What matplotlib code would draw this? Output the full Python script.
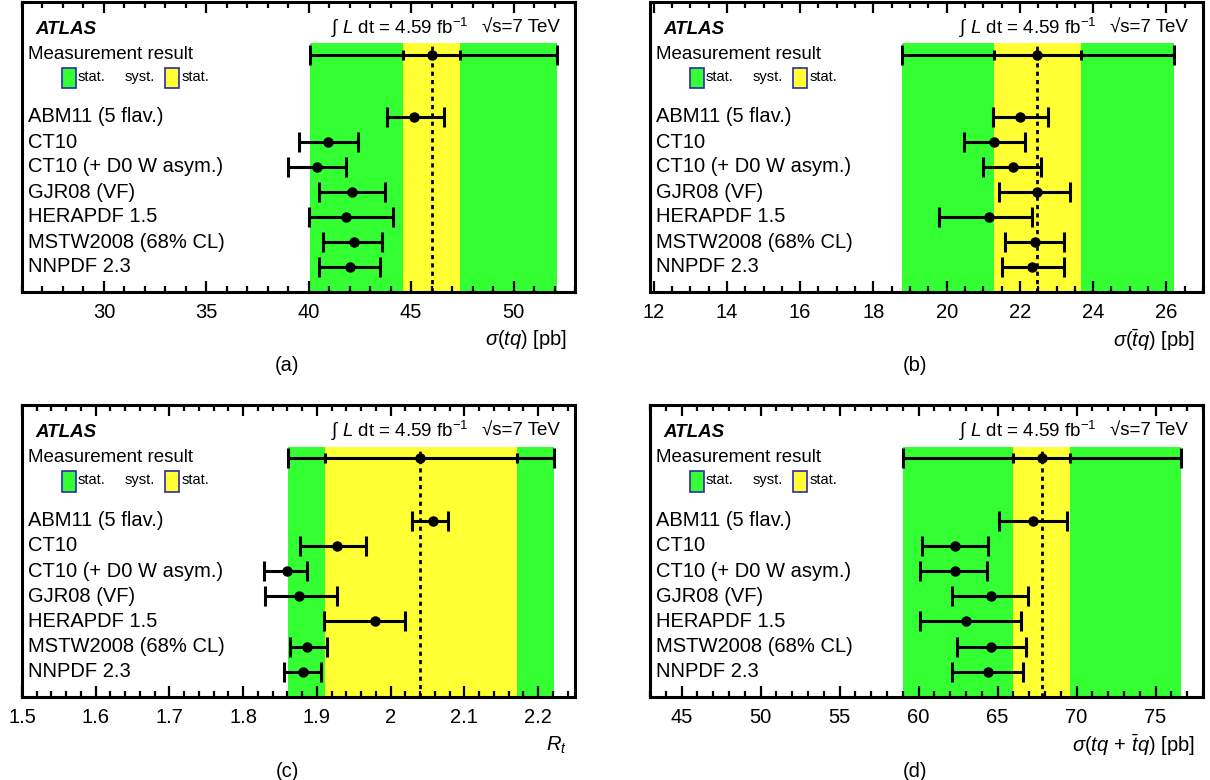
import matplotlib
matplotlib.use("Agg")
import matplotlib.pyplot as plt
from matplotlib.patches import Rectangle
from matplotlib.ticker import MultipleLocator, FormatStrFormatter

plt.rcParams['font.family'] = ['Liberation Sans', 'DejaVu Sans']
plt.rcParams['mathtext.fontset'] = 'custom'
plt.rcParams['mathtext.rm'] = 'Liberation Sans'
plt.rcParams['mathtext.it'] = 'Liberation Sans:italic'
plt.rcParams['mathtext.bf'] = 'Liberation Sans:bold'
plt.rcParams['mathtext.fallback'] = 'stixsans'

pdf_names = ["ABM11 (5 flav.)", "CT10", "CT10 (+ D0 W asym.)", "GJR08 (VF)",
             "HERAPDF 1.5", "MSTW2008 (68% CL)", "NNPDF 2.3"]

# (a) sigma(tq)
tq_pred = [45.15, 40.95, 40.4, 42.1, 41.8, 42.2, 42.0]
tq_lo = [43.8, 39.5, 39.0, 40.5, 40.0, 40.7, 40.5]
tq_hi = [46.6, 42.4, 41.8, 43.7, 44.1, 43.6, 43.5]
tq_meas = 46.0
tq_stat = [44.6, 47.4]
tq_total = [40.05, 52.1]

# (b) sigma(tbar q)
tbq_pred = [22.0, 21.3, 21.8, 22.47, 21.15, 22.4, 22.34]
tbq_lo = [21.26, 20.48, 21.0, 21.43, 19.8, 21.6, 21.5]
tbq_hi = [22.77, 22.13, 22.57, 23.36, 22.33, 23.2, 23.2]
tbq_meas = 22.47
tbq_stat = [21.29, 23.68]
tbq_total = [18.78, 26.2]

# (c) R_t
rt_pred = [2.057, 1.927, 1.859, 1.876, 1.979, 1.886, 1.881]
rt_lo = [2.029, 1.877, 1.828, 1.829, 1.909, 1.863, 1.856]
rt_hi = [2.078, 1.966, 1.887, 1.927, 2.020, 1.913, 1.905]
rt_meas = 2.04
rt_stat = [1.911, 2.172]
rt_total = [1.861, 2.221]

# (d) sigma(tq + tbar q)
tot_pred = [67.25, 62.3, 62.3, 64.6, 63.0, 64.6, 64.4]
tot_lo = [65.1, 60.2, 60.1, 62.1, 60.1, 62.4, 62.1]
tot_hi = [69.4, 64.4, 64.3, 66.9, 66.5, 66.8, 66.6]
tot_meas = 67.8
tot_stat = [66.0, 69.6]
tot_total = [59.0, 76.6]

panels = [
    dict(pred=tq_pred, lo=tq_lo, hi=tq_hi, meas=tq_meas, stat=tq_stat, total=tq_total,
         xlim=(26, 53), major=5, minor=1, xlabel=r"$\sigma\mathit{(tq)}$ [pb]", tag="(a)",
         rect=(22, 2, 575, 292)),
    dict(pred=tbq_pred, lo=tbq_lo, hi=tbq_hi, meas=tbq_meas, stat=tbq_stat, total=tbq_total,
         xlim=(11.9, 27.0), major=2, minor=0.5, xlabel=r"$\sigma\mathit{(\bar{t}q)}$ [pb]", tag="(b)",
         rect=(650, 2, 1203, 292)),
    dict(pred=rt_pred, lo=rt_lo, hi=rt_hi, meas=rt_meas, stat=rt_stat, total=rt_total,
         xlim=(1.5, 2.25), major=0.1, minor=0.02, xlabel=r"$R_t$", tag="(c)",
         rect=(22, 405, 575, 697)),
    dict(pred=tot_pred, lo=tot_lo, hi=tot_hi, meas=tot_meas, stat=tot_stat, total=tot_total,
         xlim=(43, 78), major=5, minor=1, xlabel=r"$\sigma\mathit{(tq\,+\,\bar{t}q)}$ [pb]", tag="(d)",
         rect=(650, 405, 1203, 697)),
]

W, H = 1210, 780
GREEN = '#33ff33'
YELLOW = '#ffff33'

fig = plt.figure(figsize=(W / 100, H / 100), dpi=100)

for p in panels:
    x0, y0, x1, y1 = p['rect']
    ax = fig.add_axes([x0 / W, (H - y1) / H, (x1 - x0) / W, (y1 - y0) / H])
    ax.set_xlim(*p['xlim'])
    ax.set_ylim(0, 11.6)
    band_top = 9.95
    meas_y = 9.5

    # total and stat bands
    ax.fill_betweenx([0, band_top], p['total'][0], p['total'][1], color=GREEN, lw=0, zorder=1)
    ax.fill_betweenx([0, band_top], p['stat'][0], p['stat'][1], color=YELLOW, lw=0, zorder=1)
    ax.plot([p['meas'], p['meas']], [0, band_top], color='k', lw=2, ls=(0, (1.5, 1.5)), zorder=2)

    # measurement
    ax.errorbar([p['meas']], [meas_y],
                xerr=[[p['meas'] - p['total'][0]], [p['total'][1] - p['meas']]],
                fmt='o', color='k', ms=6.5, lw=2.2, capsize=7, capthick=2.2, zorder=4)
    ax.plot(p['stat'], [meas_y, meas_y], ls='none', marker='|', ms=7, mew=2.2, color='k', zorder=4)

    # predictions
    n = len(pdf_names)
    rows = [n - i for i in range(n)]
    xerr = [[c - l for c, l in zip(p['pred'], p['lo'])], [h - c for c, h in zip(p['pred'], p['hi'])]]
    ax.errorbar(p['pred'], rows, xerr=xerr, fmt='o', color='k', ms=6.5, lw=2.2,
                capsize=7, capthick=2.2, zorder=4)

    ytr = ax.get_yaxis_transform()
    for name, r in zip(pdf_names, rows):
        ax.text(0.010, r, name, transform=ytr, ha='left', va='center', fontsize=14.5)
    ax.text(0.010, meas_y, "Measurement result", transform=ytr, ha='left', va='center', fontsize=13.5)
    ax.text(0.025, 10.5, "ATLAS", transform=ytr, ha='left', va='center', fontsize=13.5,
            fontweight='bold', fontstyle='italic')
    ax.text(0.973, 10.55, "\u221As=7 TeV", transform=ytr, ha='right', va='center', fontsize=13.5)
    ax.text(0.808, 10.55, r"$\int$ $L$ dt = 4.59 fb$^{-1}$", transform=ytr,
            ha='right', va='center', fontsize=13.5)

    # legend boxes
    leg_y = 8.56
    ax.add_patch(Rectangle((0.072, leg_y - 0.4), 0.025, 0.8, transform=ytr, facecolor=GREEN,
                           edgecolor='#2a2aa8', lw=1.2, zorder=5))
    ax.add_patch(Rectangle((0.259, leg_y - 0.4), 0.025, 0.8, transform=ytr, facecolor=YELLOW,
                           edgecolor='#2a2aa8', lw=1.2, zorder=5))
    ax.text(0.100, leg_y + 0.05, "stat.", transform=ytr, ha='left', va='center', fontsize=10.5)
    ax.text(0.186, leg_y + 0.05, "syst.", transform=ytr, ha='left', va='center', fontsize=10.5)
    ax.text(0.288, leg_y + 0.05, "stat.", transform=ytr, ha='left', va='center', fontsize=10.5)

    # axes styling
    ax.set_yticks([])
    ax.xaxis.set_major_locator(MultipleLocator(p['major']))
    ax.xaxis.set_minor_locator(MultipleLocator(p['minor']))
    ax.xaxis.set_major_formatter(FormatStrFormatter('%g'))
    ax.tick_params(axis='x', which='both', direction='in', top=True, bottom=True, width=1.6,
                   labelsize=14.5, pad=8)
    ax.tick_params(axis='x', which='major', length=8)
    ax.tick_params(axis='x', which='minor', length=4)
    for s in ax.spines.values():
        s.set_linewidth(2.2)

    ax.text(0.985, -0.165, p['xlabel'], transform=ax.transAxes, ha='right', va='center', fontsize=14.5)
    ax.text(0.48, -0.255, p['tag'], transform=ax.transAxes, ha='center', va='center', fontsize=14.5)

fig.savefig("out.png", dpi=100)
